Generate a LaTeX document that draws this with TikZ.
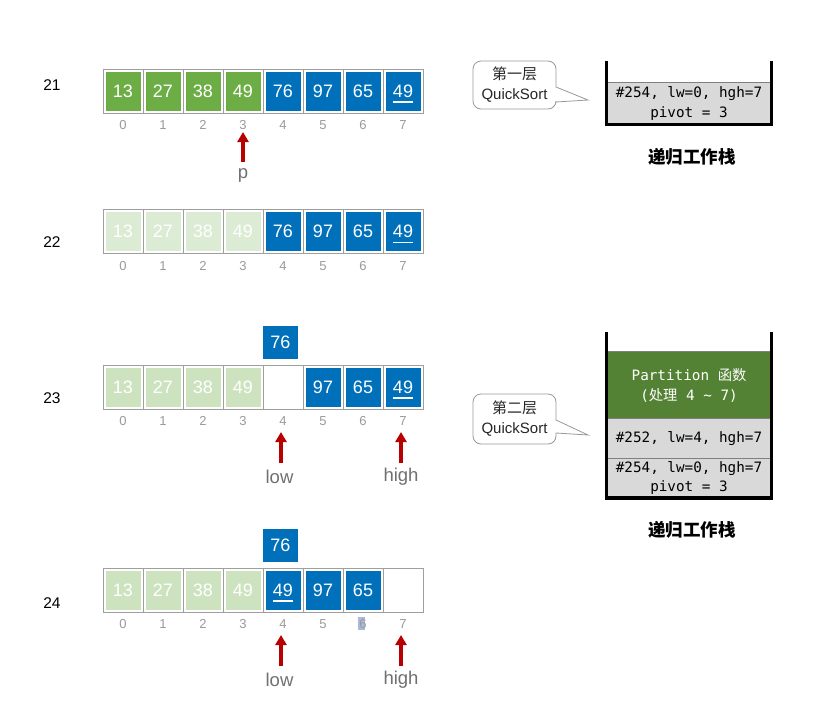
\documentclass[tikz,border=0pt]{standalone}
\usepackage{fontspec}
\setmainfont{Liberation Sans}
\newfontfamily\cjk{Noto Sans CJK SC}
\newfontfamily\monof{DejaVu Sans Mono}
\usetikzlibrary{arrows.meta}
\definecolor{cgreen}{HTML}{6DAD46}
\definecolor{cblue}{HTML}{0070BA}
\definecolor{cfadeA}{HTML}{DCEBD3}
\definecolor{cfadeB}{HTML}{CDE3C0}
\definecolor{sgreen}{HTML}{548235}
\definecolor{sgray}{HTML}{D9D9D9}
\definecolor{ared}{HTML}{B80000}
\definecolor{lblgray}{HTML}{707070}
\definecolor{idxgray}{HTML}{9A9A9A}
\definecolor{selblue}{HTML}{A9B9DA}
\tikzset{
  cellframe/.style={draw=gray!75, line width=1pt, minimum width=40pt, minimum height=44pt, inner sep=0pt, outer sep=0pt},
  cellbase/.style={minimum width=35pt, minimum height=39pt, inner sep=0pt, text=white, font=\fontsize{18}{18}\selectfont},
  gr/.style={cellbase, fill=cgreen},
  bl/.style={cellbase, fill=cblue},
  fa/.style={cellbase, fill=cfadeA},
  fb/.style={cellbase, fill=cfadeB},
  em/.style={cellbase},
  idx/.style={text=idxgray, font=\fontsize{13}{13}\selectfont, inner sep=0pt, text height=9.4pt, text depth=0pt},
  rowlbl/.style={font=\fontsize{15.5}{15.5}\selectfont, inner sep=0pt},
  ptr/.style={draw=ared, line width=3.2pt, -{Triangle[width=11pt,length=10pt]}},
  ptrlbl/.style={text=lblgray, font=\fontsize{18.5}{18.5}\selectfont, inner sep=0pt},
  uline/.style={draw=white, line width=1.4pt},
  bubble/.style={draw=gray!80, line width=0.8pt, fill=white},
  bubtext/.style={align=center, text=black!85, font=\fontsize{15}{20}\selectfont, inner sep=0pt},
  wall/.style={draw=black, line width=3.5pt},
  sbox/.style={minimum width=163pt, inner sep=0pt, align=center, font=\monof\fontsize{14.3}{19.5}\selectfont},
  stitle/.style={font=\cjk\bfseries\fontsize{17.5}{17.5}\selectfont, inner sep=0pt}
}
\newcommand\arrrow[3]{%
  \foreach \i/\v/\s in {#3} {
    \node[cellframe] (#1c\i) at (123+40*\i, #2) {};
    \node[\s] (#1v\i) at (123+40*\i, #2) {\v};
    \node[idx] (#1i\i) at (123+40*\i, #2+34) {\i};
  }}
\begin{document}
\begin{tikzpicture}[x=1pt,y=-1pt]
\useasboundingbox[fill=white] (0,0) rectangle (828,718);

% ---------- row 21 ----------
\node[rowlbl] (l21) at (52,85) {21};
\arrrow{r21}{91}{0/13/gr,1/27/gr,2/38/gr,3/49/gr,4/76/bl,5/97/bl,6/65/bl,7/49/bl}
\draw[uline] ([xshift=-10pt,yshift=-11pt]r21v7.center) -- ([xshift=10pt,yshift=-11pt]r21v7.center);
\node[ptrlbl] (p21) at (243,175) {p};
\coordinate (p21s) at (243,162);
\coordinate (p21e) at (243,132);
\draw[ptr] (p21s) -- (p21e);

% ---------- row 22 ----------
\node[rowlbl] (l22) at (52,242) {22};
\arrrow{r22}{231.5}{0/13/fa,1/27/fa,2/38/fa,3/49/fa,4/76/bl,5/97/bl,6/65/bl,7/49/bl}
\draw[uline] ([xshift=-10pt,yshift=-11pt]r22v7.center) -- ([xshift=10pt,yshift=-11pt]r22v7.center);

% ---------- row 23 ----------
\node[rowlbl] (l23) at (52,398) {23};
\arrrow{r23}{387}{0/13/fb,1/27/fb,2/38/fb,3/49/fb,4/{}/em,5/97/bl,6/65/bl,7/49/bl}
\draw[uline] ([xshift=-10pt,yshift=-11pt]r23v7.center) -- ([xshift=10pt,yshift=-11pt]r23v7.center);
\node[bl, minimum height=33pt] (t23) at (280.5,342.5) {76};
\node[ptrlbl] (low23) at (279.5,477) {low};
\node[ptrlbl] (high23) at (401,477) {high};
\coordinate (a23s) at (281,463);
\coordinate (a23e) at (281,432);
\coordinate (b23s) at (401,463);
\coordinate (b23e) at (401,432);
\draw[ptr] (a23s) -- (a23e);
\draw[ptr] (b23s) -- (b23e);

% ---------- row 24 ----------
\node[rowlbl] (l24) at (52,603) {24};
\fill[selblue] (357.5,617) rectangle (364.5,630);
\arrrow{r24}{590}{0/13/fb,1/27/fb,2/38/fb,3/49/fb,4/49/bl,5/97/bl,6/65/bl,7/{}/em}
\draw[uline] ([xshift=-10pt,yshift=-11pt]r24v4.center) -- ([xshift=10pt,yshift=-11pt]r24v4.center);
\node[bl, minimum height=33pt] (t24) at (280.5,545.5) {76};
\node[ptrlbl] (low24) at (279.5,680) {low};
\node[ptrlbl] (high24) at (401,680) {high};
\coordinate (a24s) at (281,666);
\coordinate (a24e) at (281,635);
\coordinate (b24s) at (401,666);
\coordinate (b24e) at (401,635);
\draw[ptr] (a24s) -- (a24e);
\draw[ptr] (b24s) -- (b24e);

% ---------- bubble 1 ----------
\draw[bubble] (556,102) [rounded corners=8pt]-- (556,109) -- (473,109) -- (473,61) -- (556,61) [sharp corners]-- (556,87) -- (588,100) -- cycle;
\node[bubtext] (bt1) at (514.5,85) {{\cjk 第一层}\\QuickSort};

% ---------- stack 1 ----------
\node[sbox, fill=sgray, minimum height=41pt] (s1a) at (689,103.5) {\#254, lw=0, hgh=7\\pivot = 3};
\draw[draw=gray, line width=0.8pt] (s1a.north west) -- (s1a.north east);
\draw[wall] (606.5,61) -- (606.5,124.5) -- (771.5,124.5) -- (771.5,61);
\node[stitle] (st1) at (692,157) {递归工作栈};

% ---------- bubble 2 ----------
\draw[bubble] (556,433) [rounded corners=8pt]-- (556,444) -- (473,444) -- (473,394) -- (556,394) [sharp corners]-- (556,420) -- (588,435) -- cycle;
\node[bubtext] (bt2) at (514.5,419) {{\cjk 第二层}\\QuickSort};

% ---------- stack 2 ----------
\node[sbox, fill=sgreen, text=white, minimum height=67pt] (s2g) at (689,385.5) {Partition {\cjk 函数}\\({\cjk 处理} 4 \textasciitilde{} 7)};
\node[sbox, fill=sgray, minimum height=40pt] (s2a) at (689,439) {\#252, lw=4, hgh=7};
\node[sbox, fill=sgray, minimum height=38pt] (s2b) at (689,478) {\#254, lw=0, hgh=7\\pivot = 3};
\draw[draw=gray, line width=0.8pt] (s2g.north west) -- (s2g.north east);
\draw[draw=gray, line width=0.8pt] (s2a.north west) -- (s2a.north east);
\draw[draw=gray, line width=0.8pt] (s2b.north west) -- (s2b.north east);
\draw[wall] (606.5,332) -- (606.5,498) -- (771.5,498) -- (771.5,332);
\node[stitle] (st2) at (692,530) {递归工作栈};
\end{tikzpicture}
\end{document}
